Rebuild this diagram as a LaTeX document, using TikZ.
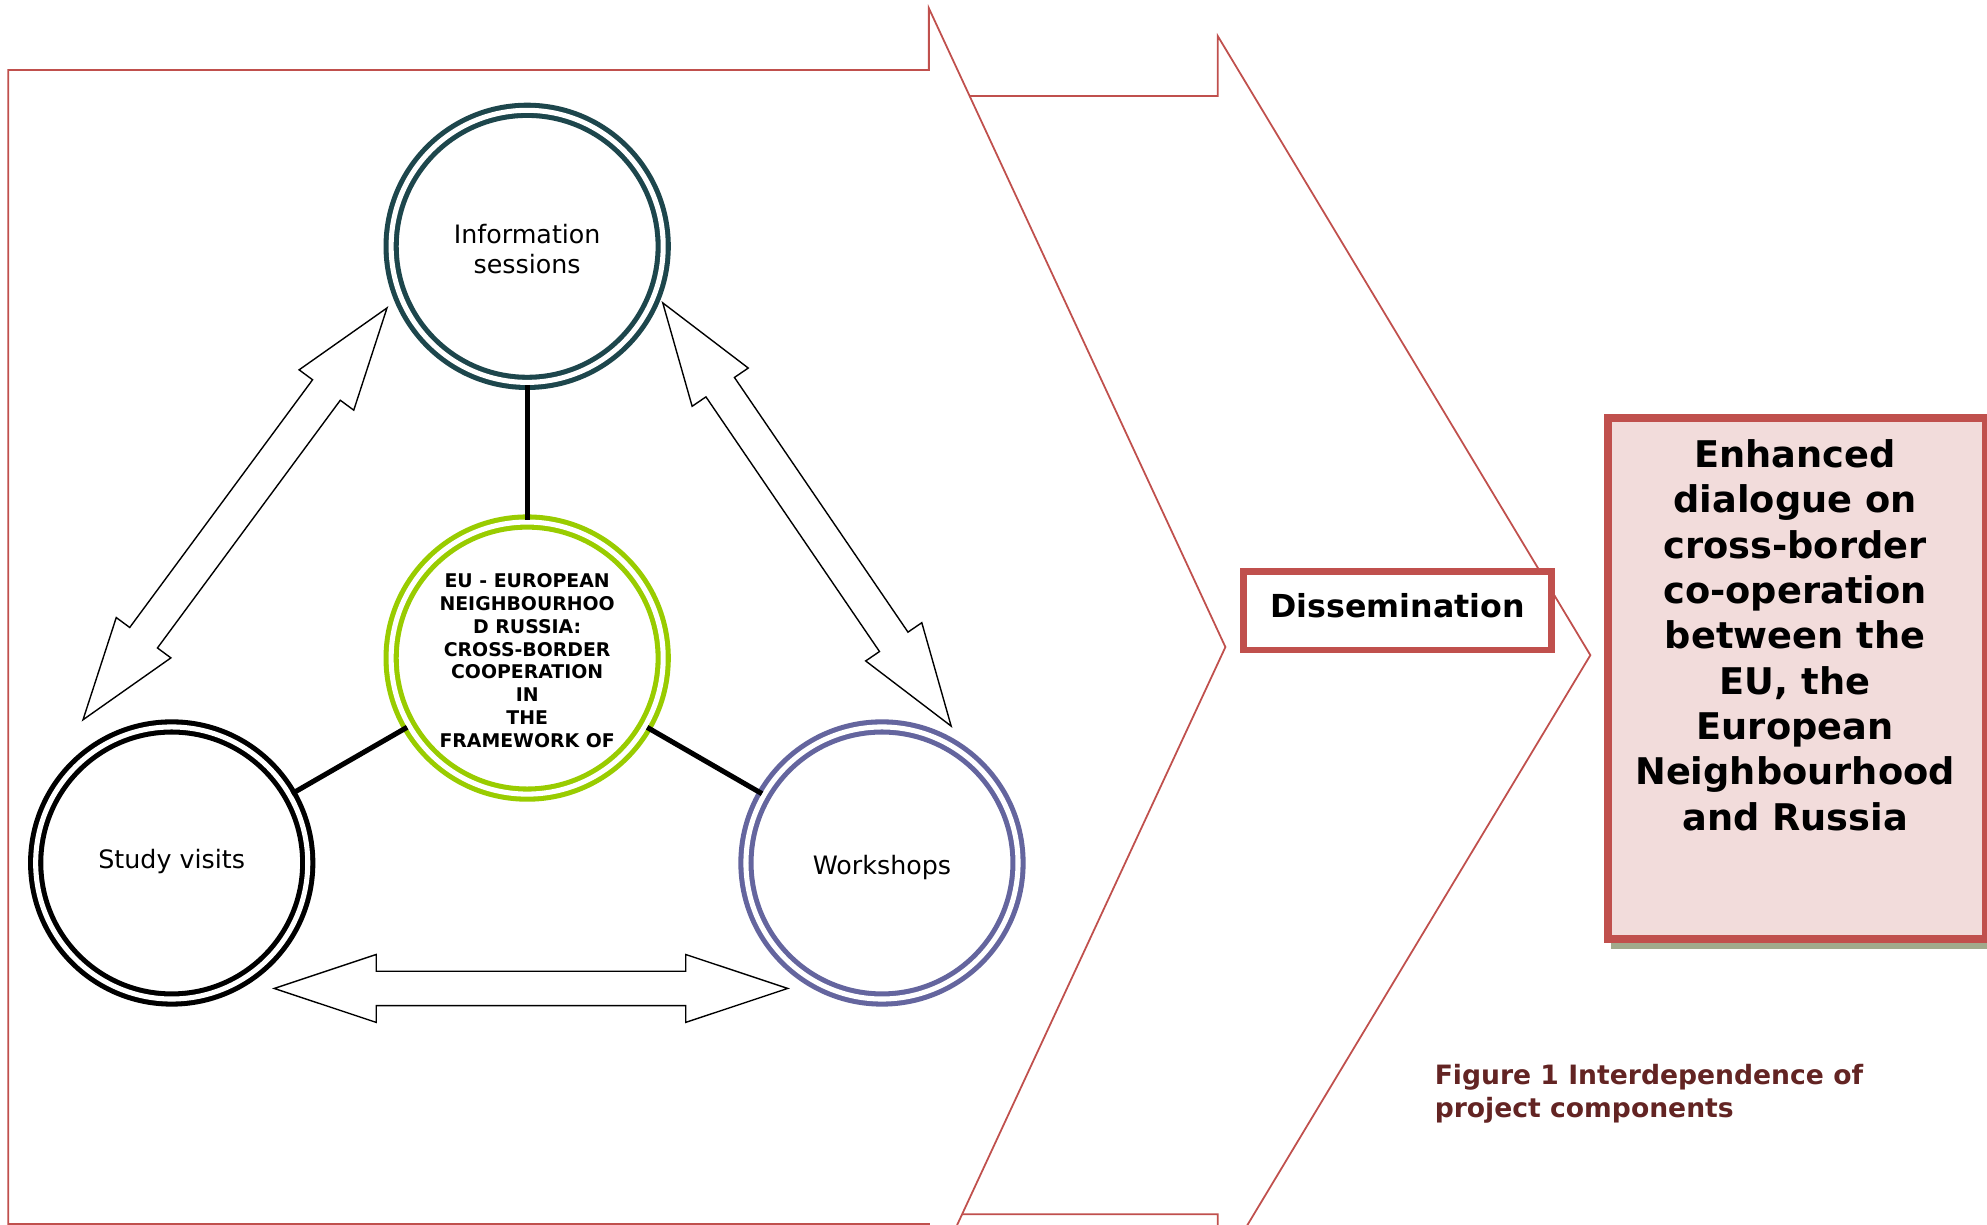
\documentclass[tikz,border=0pt]{standalone}
\usepackage{fontspec}
\setmainfont{DejaVu Sans}
\usetikzlibrary{calc,shadows}
\definecolor{chevc}{RGB}{192,80,77}
\definecolor{infoc}{RGB}{29,70,76}
\definecolor{greenc}{RGB}{153,204,0}
\definecolor{workc}{RGB}{100,101,158}
\definecolor{pinkc}{RGB}{242,220,219}
\definecolor{capc}{RGB}{99,36,35}
\definecolor{shadc}{RGB}{161,170,140}
\newcommand\dblarr[2]{%
  \coordinate (h1) at ($(#1)!80.5pt!(#2)$);
  \coordinate (h2) at ($(#2)!80.5pt!(#1)$);
  \draw[dblarrow] (#1) -- ($(h1)!26.8pt!90:(#2)$) -- ($(h1)!13.6pt!90:(#2)$)
    -- ($(h2)!13.6pt!-90:(#1)$) -- ($(h2)!26.8pt!-90:(#1)$) -- (#2)
    -- ($(h2)!26.8pt!90:(#1)$) -- ($(h2)!13.6pt!90:(#1)$)
    -- ($(h1)!13.6pt!-90:(#2)$) -- ($(h1)!26.8pt!-90:(#2)$) -- cycle;}
\begin{document}
\begin{tikzpicture}[x=1pt,y=-1pt,
  chevron/.style={draw=chevc, line width=1.4pt, line join=miter},
  ring/.style={circle, minimum size=214.7pt, inner sep=0pt, outer sep=2pt,
    line width=4pt, double=white, double distance=4pt, draw=#1, fill=white, align=center},
  ringtxt/.style={font=\fontsize{20}{23.7}\selectfont},
  coretxt/.style={font=\bfseries\fontsize{14.9}{17.93}\selectfont},
  link/.style={line width=4pt, black},
  dblarrow/.style={draw=black, line width=1.1pt, fill=white, line join=miter},
  dissbox/.style={draw=chevc, line width=5.3pt, fill=white, minimum width=242.6pt,
    minimum height=61.7pt, inner sep=0pt, text height=20pt, text depth=10pt,
    font=\bfseries\fontsize{25}{30}\selectfont},
  bigbox/.style={draw=chevc, line width=6pt, fill=pinkc, minimum width=298pt,
    minimum height=411pt, inner sep=0pt,
    drop shadow={shadow xshift=2pt, shadow yshift=-7.5pt, fill=shadc, opacity=1}},
  bigtxt/.style={align=center, inner sep=0pt, font=\bfseries\fontsize{29}{35.75}\selectfont},
  captxt/.style={align=left, inner sep=0pt, text=capc, font=\bfseries\fontsize{21}{26}\selectfont}]
\useasboundingbox (0,0) rectangle (1568,966);
\clip (0,0) rectangle (1568,966);
% chevrons
\draw[chevron] (700,75.8) -- (961,75.8) -- (961,28.5) -- (1255,517) -- (961,1005.5)
  -- (961,958.2) -- (700,958.2) -- cycle;
\draw[chevron, fill=white] (6.5,55.3) -- (733,55.3) -- (733,6.5) -- (967,510.6)
  -- (733,1014.7) -- (733,965.9) -- (6.5,965.9) -- cycle;
% double arrows
\coordinate (la1) at (305.4,243);
\coordinate (la2) at (65.5,568);
\coordinate (ra1) at (523,239);
\coordinate (ra2) at (750.6,573);
\coordinate (ba1) at (216.4,780);
\coordinate (ba2) at (621.6,780);
\dblarr{la1}{la2}
\dblarr{ra1}{ra2}
\dblarr{ba1}{ba2}
% circles
\node[ring=infoc, ringtxt, text height=42.9pt, text depth=0pt] (info) at (416,194.4) {Information\\sessions};
\node[ring=greenc, coretxt, text height=140.4pt, text depth=0pt] (core) at (416,519.3) {EU - EUROPEAN\\NEIGHBOURHOO\\D RUSSIA:\\CROSS-BORDER\\COOPERATION\\IN\\THE\\FRAMEWORK OF};
\node[ring=black, ringtxt, text height=14pt, text depth=6pt] (study) at (135.5,681) {Study visits};
\node[ring=workc, ringtxt, text height=18pt, text depth=0pt] (work) at (696,681) {Workshops};
\draw[link] (info) -- (core);
\draw[link] (core) -- (study);
\draw[link] (core) -- (work);
% boxes
\node[dissbox] (diss) at (1102.8,482) {Dissemination};
\node[bigbox] (big) at (1418,535.5) {};
\node[bigtxt, anchor=north] (bigtext) at (1416.5,346.8) {Enhanced\\dialogue on\\cross-border\\co-operation\\between the\\EU, the\\European\\Neighbourhood\\and Russia};
\node[captxt, anchor=north west] (caption) at (1132,840) {Figure 1 Interdependence of\\project components};
\end{tikzpicture}
\end{document}
